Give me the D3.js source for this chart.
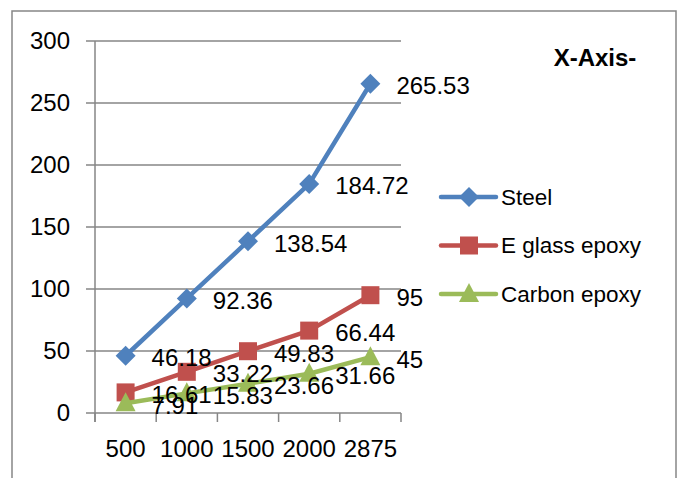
<!DOCTYPE html>
<html><head><meta charset="utf-8">
<script src="https://cdn.jsdelivr.net/npm/d3@7"></script>
<style>
html,body{margin:0;padding:0;background:#fff;}
svg{display:block;}
text{font-family:"Liberation Sans",Arial,sans-serif;fill:#000;}
</style></head>
<body>
<svg id="chart" width="680" height="478"></svg>
<script>
const categories = ["500","1000","1500","2000","2875"];
const steel = [46.18, 92.36, 138.54, 184.72, 265.53];
const eglass = [16.61, 33.22, 49.83, 66.44, 95];
const carbon = [7.91, 15.83, 23.66, 31.66, 45];
const seriesNames = ["Steel","E glass epoxy","Carbon epoxy"];
const yTicks = [0,50,100,150,200,250,300];
const title = "X-Axis-";

const series = [
  {name: seriesNames[0], values: steel, color: "#4F81BD", marker: "diamond"},
  {name: seriesNames[1], values: eglass, color: "#C0504D", marker: "square"},
  {name: seriesNames[2], values: carbon, color: "#9BBB59", marker: "triangle"}
];

const svg = d3.select("#chart");
const grid = "#868686";
const fs = 24;
const legendFs = 22.5;

// outer border
svg.append("rect").attr("x",12).attr("y",11).attr("width",664).attr("height",480)
  .attr("fill","none").attr("stroke",grid).attr("stroke-width",1.5);

const x = d3.scaleBand().domain(categories).range([95,401]).padding(0);
const y = d3.scaleLinear().domain([0,300]).range([413,41]);

// gridlines
svg.append("g").selectAll("line").data(yTicks).join("line")
  .attr("x1",86).attr("x2",401)
  .attr("y1",d=>y(d)).attr("y2",d=>y(d))
  .attr("stroke",grid).attr("stroke-width",1.5);

// y axis
const yAxis = d3.axisLeft(y).tickValues(yTicks).tickSize(0).tickPadding(25).tickFormat(d3.format("d"));
const gy = svg.append("g").attr("transform","translate(95,0)").call(yAxis);
gy.select(".domain").remove();
gy.selectAll("text").attr("font-size",fs).attr("font-family","'Liberation Sans',Arial,sans-serif").attr("fill","#000");
svg.append("line").attr("x1",95).attr("x2",95).attr("y1",y(300)).attr("y2",422)
  .attr("stroke",grid).attr("stroke-width",1.5);

// x axis
const xAxis = d3.axisBottom(x).tickSize(0).tickPadding(27);
const gx = svg.append("g").attr("transform","translate(0,413)").call(xAxis);
gx.select(".domain").remove();
gx.selectAll("text").attr("font-size",fs).attr("font-family","'Liberation Sans',Arial,sans-serif").attr("fill","#000");
const bounds = categories.map(c=>x(c)).concat([x.range()[1]]);
svg.append("g").selectAll("line").data(bounds).join("line")
  .attr("x1",d=>d).attr("x2",d=>d).attr("y1",413).attr("y2",422)
  .attr("stroke",grid).attr("stroke-width",1.5);

const cx = c => x(c) + x.bandwidth()/2;

function drawMarker(g, type, color, px, py){
  if(type==="diamond"){
    g.append("path").attr("d",`M${px},${py-10}L${px+10},${py}L${px},${py+10}L${px-10},${py}Z`).attr("fill",color);
  } else if(type==="square"){
    g.append("rect").attr("x",px-9).attr("y",py-9).attr("width",18).attr("height",18).attr("fill",color);
  } else {
    g.append("path").attr("d",`M${px},${py-11}L${px+10},${py+8}L${px-10},${py+8}Z`).attr("fill",color);
  }
}

const line = d3.line().x((d,i)=>cx(categories[i])).y(d=>y(d));
series.forEach(s=>{
  const g = svg.append("g");
  g.append("path").attr("d",line(s.values)).attr("fill","none")
    .attr("stroke",s.color).attr("stroke-width",4.5).attr("stroke-linejoin","round").attr("stroke-linecap","round");
  s.values.forEach((v,i)=>drawMarker(g,s.marker,s.color,cx(categories[i]),y(v)));
});
// data labels
series.forEach(s=>{
  svg.append("g").selectAll("text").data(s.values).join("text")
    .attr("x",(d,i)=>cx(categories[i])+26)
    .attr("y",d=>y(d)+2)
    .attr("dy","0.35em")
    .attr("font-size",fs)
    .text(d=>String(d));
});

// legend
const lg = svg.append("g");
series.forEach((s,i)=>{
  const ly = 197 + i*48.5;
  lg.append("line").attr("x1",441).attr("x2",496).attr("y1",ly).attr("y2",ly)
    .attr("stroke",s.color).attr("stroke-width",4.5).attr("stroke-linecap","round");
  drawMarker(lg,s.marker,s.color,469,ly);
  lg.append("text").attr("x",501).attr("y",ly).attr("dy","0.35em").attr("font-size",legendFs).text(s.name);
});

svg.append("text").attr("x",595).attr("y",58).attr("dy","0.35em").attr("text-anchor","middle")
  .attr("font-size",24).attr("font-weight","bold").text(title);
</script>
</body></html>
